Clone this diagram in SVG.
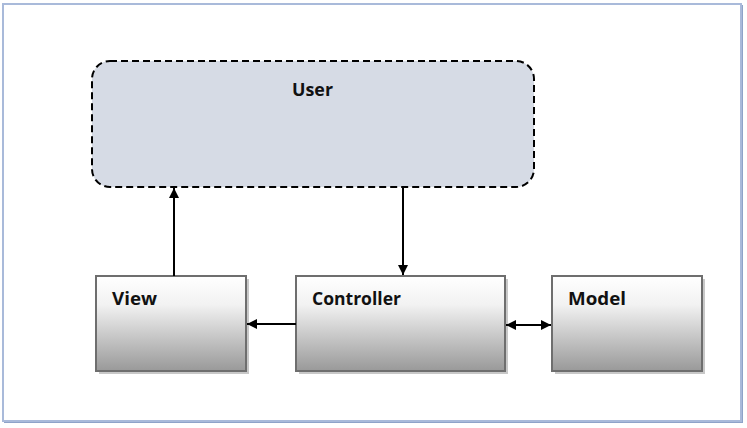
<svg xmlns="http://www.w3.org/2000/svg" width="747" height="428" viewBox="0 0 747 428">
  <defs>
    <linearGradient id="boxGrad" x1="0" y1="0" x2="0" y2="1">
      <stop offset="0" stop-color="#ffffff"/>
      <stop offset="0.3" stop-color="#f2f2f2"/>
      <stop offset="1" stop-color="#999999"/>
    </linearGradient>
    <marker id="arrow" viewBox="0 0 10 10" refX="10" refY="5" markerWidth="5" markerHeight="5" orient="auto-start-reverse" markerUnits="strokeWidth">
      <path d="M0,0 L10,5 L0,10 z" fill="#000"/>
    </marker>
  </defs>
  <style>
    .box { fill: url(#boxGrad); stroke: #6e6e6e; stroke-width: 2; }
    .shadow { fill: #c8c8c8; }
    .label { font-family: "Open Sans", "Liberation Sans", sans-serif; font-weight: bold; font-size: 17px; fill: #111; }
    .conn { stroke: #000; stroke-width: 2; fill: none; }
  </style>
  <rect x="0" y="0" width="747" height="428" fill="#ffffff"/>
  <g id="frame">
    <rect x="4" y="5" width="739" height="418" fill="#8ea3c9"/>
    <rect x="3" y="4" width="738" height="417" fill="#ffffff" stroke="#a9bada" stroke-width="2"/>
  </g>
  <g id="user">
    <rect x="92" y="61" width="442" height="126" rx="18" ry="18" fill="#d6dbe5" stroke="#000" stroke-width="2" stroke-dasharray="7,4"/>
    <text class="label" x="292" y="96" textLength="41" lengthAdjust="spacingAndGlyphs">User</text>
  </g>
  <g id="view">
    <rect class="shadow" x="99" y="279" width="150" height="95"/>
    <rect class="box" x="96" y="276" width="150" height="95"/>
    <text class="label" x="112" y="305" textLength="45" lengthAdjust="spacingAndGlyphs">View</text>
  </g>
  <g id="controller">
    <rect class="shadow" x="299" y="279" width="209" height="95"/>
    <rect class="box" x="296" y="276" width="209" height="95"/>
    <text class="label" x="312" y="305" textLength="89" lengthAdjust="spacingAndGlyphs">Controller</text>
  </g>
  <g id="model">
    <rect class="shadow" x="555" y="279" width="150" height="95"/>
    <rect class="box" x="552" y="276" width="150" height="95"/>
    <text class="label" x="568" y="305" textLength="58" lengthAdjust="spacingAndGlyphs">Model</text>
  </g>
  <g id="connectors">
    <line class="conn" x1="174" y1="276" x2="174" y2="188" marker-end="url(#arrow)"/>
    <line class="conn" x1="403" y1="188" x2="403" y2="275" marker-end="url(#arrow)"/>
    <line class="conn" x1="296" y1="324" x2="247" y2="324" marker-end="url(#arrow)"/>
    <line class="conn" x1="506" y1="325" x2="551" y2="325" marker-start="url(#arrow)" marker-end="url(#arrow)"/>
  </g>
</svg>
